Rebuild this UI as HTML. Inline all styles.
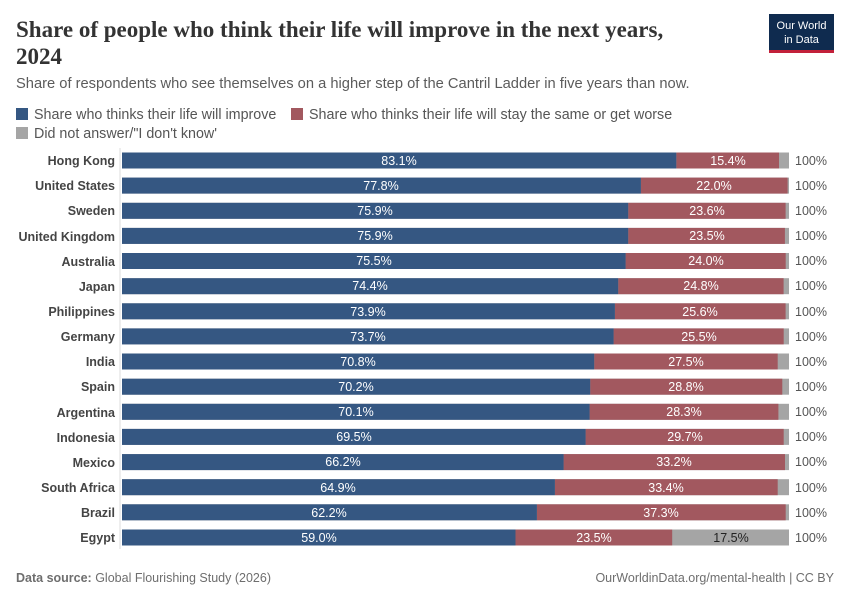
<!DOCTYPE html><html><head><meta charset="utf-8"><style>body{margin:0;background:#fff}svg{display:block}</style></head><body>
<svg width="850" height="600" xmlns="http://www.w3.org/2000/svg" font-family="'Liberation Sans',sans-serif">
<text x="16" y="37" font-family="'Liberation Serif',serif" font-size="23" font-weight="bold" fill="#333">Share of people who think their life will improve in the next years,</text>
<text x="16" y="64" font-family="'Liberation Serif',serif" font-size="23" font-weight="bold" fill="#333">2024</text>
<rect x="769" y="14" width="65" height="38" fill="#0f2b4f"/><rect x="769" y="50" width="65" height="3" fill="#c2203a"/>
<text x="801.5" y="29" font-size="11" fill="#fff" text-anchor="middle">Our World</text><text x="801.5" y="43" font-size="11" fill="#fff" text-anchor="middle">in Data</text>
<text x="16" y="88" font-size="14.7" fill="#5b5b5b">Share of respondents who see themselves on a higher step of the Cantril Ladder in five years than now.</text>
<rect x="16" y="108" width="12" height="12" fill="#355782"/><text x="34" y="119" font-size="14.3" fill="#555">Share who thinks their life will improve</text>
<rect x="291" y="108" width="12" height="12" fill="#a2585f"/><text x="309" y="119" font-size="14.3" fill="#555">Share who thinks their life will stay the same or get worse</text>
<rect x="16" y="127" width="12" height="12" fill="#a5a5a5"/><text x="34" y="138" font-size="14.3" fill="#555">Did not answer/"I don't know'</text>
<line x1="120" y1="148" x2="120" y2="549" stroke="#ddd"/>
<g font-size="12.5" font-weight="bold" fill="#444" text-anchor="end">
<text x="115" y="165">Hong Kong</text><text x="115" y="190">United States</text><text x="115" y="215">Sweden</text><text x="115" y="241">United Kingdom</text><text x="115" y="266">Australia</text><text x="115" y="291">Japan</text><text x="115" y="316">Philippines</text><text x="115" y="341">Germany</text><text x="115" y="366">India</text><text x="115" y="391">Spain</text><text x="115" y="417">Argentina</text><text x="115" y="442">Indonesia</text><text x="115" y="467">Mexico</text><text x="115" y="492">South Africa</text><text x="115" y="517">Brazil</text><text x="115" y="542">Egypt</text>
</g>
<g fill="#a5a5a5">
<rect x="122" y="152.5" width="667" height="16"/><rect x="122" y="177.6" width="667" height="16"/><rect x="122" y="202.8" width="667" height="16"/><rect x="122" y="227.9" width="667" height="16"/><rect x="122" y="253" width="667" height="16"/><rect x="122" y="278.2" width="667" height="16"/><rect x="122" y="303.3" width="667" height="16"/><rect x="122" y="328.4" width="667" height="16"/><rect x="122" y="353.5" width="667" height="16"/><rect x="122" y="378.7" width="667" height="16"/><rect x="122" y="403.8" width="667" height="16"/><rect x="122" y="428.9" width="667" height="16"/><rect x="122" y="454.1" width="667" height="16"/><rect x="122" y="479.2" width="667" height="16"/><rect x="122" y="504.3" width="667" height="16"/><rect x="122" y="529.5" width="667" height="16"/>
</g>
<g fill="#a2585f">
<rect x="676.3" y="152.5" width="102.7" height="16"/><rect x="640.9" y="177.6" width="146.7" height="16"/><rect x="628.2" y="202.8" width="157.4" height="16"/><rect x="628.2" y="227.9" width="156.7" height="16"/><rect x="625.6" y="253" width="160.1" height="16"/><rect x="618.2" y="278.2" width="165.4" height="16"/><rect x="614.9" y="303.3" width="170.7" height="16"/><rect x="613.6" y="328.4" width="170.1" height="16"/><rect x="594.2" y="353.5" width="183.5" height="16"/><rect x="590.2" y="378.7" width="192.1" height="16"/><rect x="589.6" y="403.8" width="188.8" height="16"/><rect x="585.6" y="428.9" width="198.1" height="16"/><rect x="563.6" y="454.1" width="221.4" height="16"/><rect x="554.9" y="479.2" width="222.8" height="16"/><rect x="536.9" y="504.3" width="248.8" height="16"/><rect x="515.5" y="529.5" width="156.7" height="16"/>
</g>
<g fill="#355782">
<rect x="122" y="152.5" width="554.3" height="16"/><rect x="122" y="177.6" width="518.9" height="16"/><rect x="122" y="202.8" width="506.2" height="16"/><rect x="122" y="227.9" width="506.2" height="16"/><rect x="122" y="253" width="503.6" height="16"/><rect x="122" y="278.2" width="496.2" height="16"/><rect x="122" y="303.3" width="492.9" height="16"/><rect x="122" y="328.4" width="491.6" height="16"/><rect x="122" y="353.5" width="472.2" height="16"/><rect x="122" y="378.7" width="468.2" height="16"/><rect x="122" y="403.8" width="467.6" height="16"/><rect x="122" y="428.9" width="463.6" height="16"/><rect x="122" y="454.1" width="441.6" height="16"/><rect x="122" y="479.2" width="432.9" height="16"/><rect x="122" y="504.3" width="414.9" height="16"/><rect x="122" y="529.5" width="393.5" height="16"/>
</g>
<g font-size="12.5" fill="#fff" text-anchor="middle">
<text x="399" y="165">83.1%</text><text x="381" y="190">77.8%</text><text x="375" y="215">75.9%</text><text x="375" y="240">75.9%</text><text x="374" y="265">75.5%</text><text x="370" y="290">74.4%</text><text x="368" y="316">73.9%</text><text x="368" y="341">73.7%</text><text x="358" y="366">70.8%</text><text x="356" y="391">70.2%</text><text x="356" y="416">70.1%</text><text x="354" y="441">69.5%</text><text x="343" y="466">66.2%</text><text x="338" y="492">64.9%</text><text x="329" y="517">62.2%</text><text x="319" y="542">59.0%</text>
<text x="728" y="165">15.4%</text><text x="714" y="190">22.0%</text><text x="707" y="215">23.6%</text><text x="707" y="240">23.5%</text><text x="706" y="265">24.0%</text><text x="701" y="290">24.8%</text><text x="700" y="316">25.6%</text><text x="699" y="341">25.5%</text><text x="686" y="366">27.5%</text><text x="686" y="391">28.8%</text><text x="684" y="416">28.3%</text><text x="685" y="441">29.7%</text><text x="674" y="466">33.2%</text><text x="666" y="492">33.4%</text><text x="661" y="517">37.3%</text><text x="594" y="542">23.5%</text>
<text x="731" y="542" fill="#222">17.5%</text>
</g>
<g font-size="12.5" fill="#555">
<text x="795" y="165">100%</text><text x="795" y="190">100%</text><text x="795" y="215">100%</text><text x="795" y="240">100%</text><text x="795" y="265">100%</text><text x="795" y="290">100%</text><text x="795" y="316">100%</text><text x="795" y="341">100%</text><text x="795" y="366">100%</text><text x="795" y="391">100%</text><text x="795" y="416">100%</text><text x="795" y="441">100%</text><text x="795" y="466">100%</text><text x="795" y="492">100%</text><text x="795" y="517">100%</text><text x="795" y="542">100%</text>
</g>
<text x="16" y="582" font-size="12.5" fill="#6e6e6e"><tspan font-weight="bold">Data source:</tspan> Global Flourishing Study (2026)</text>
<text x="834" y="582" font-size="12.5" fill="#6e6e6e" text-anchor="end">OurWorldinData.org/mental-health | CC BY</text>
</svg></body></html>
